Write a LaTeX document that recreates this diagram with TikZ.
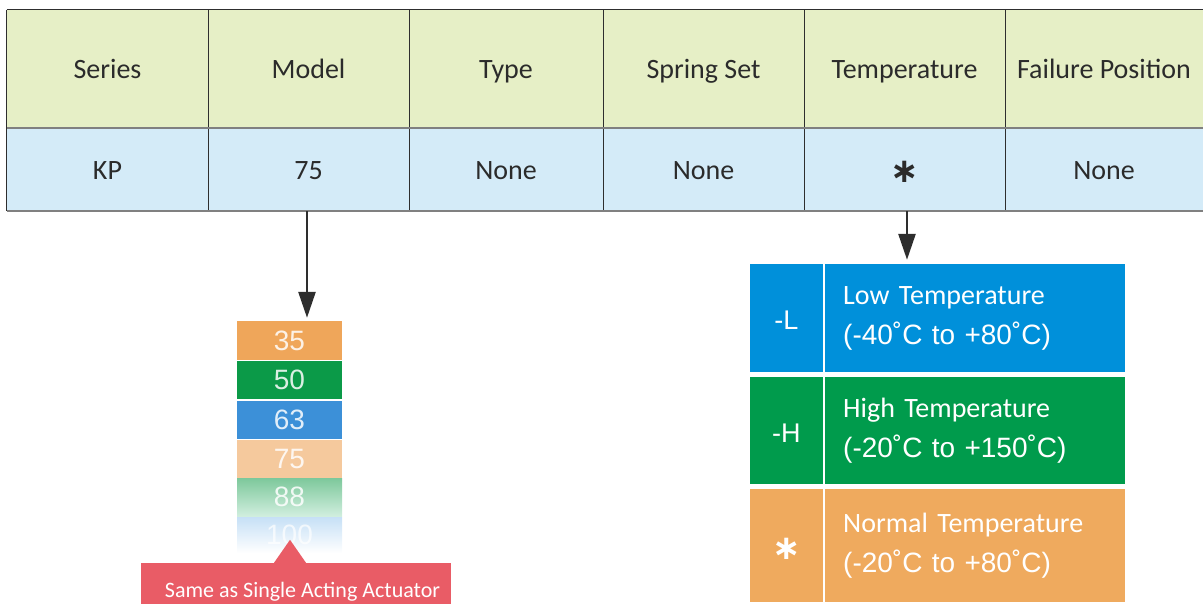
\documentclass[tikz,border=0pt]{standalone}
\usepackage{fontspec}
\setmainfont{Carlito}
\newfontfamily\arialf{Liberation Sans}
\newfontfamily\djv{DejaVu Sans}
\usetikzlibrary{arrows.meta,calc}
\definecolor{hdr}{HTML}{E6EFC6}
\definecolor{rowc}{HTML}{D4EBF8}
\definecolor{tline}{HTML}{2E2E2E}
\definecolor{gline}{HTML}{808080}
\definecolor{tblue}{HTML}{0090DA}
\definecolor{tgreen}{HTML}{009B4C}
\definecolor{torange}{HTML}{EFAA5E}
\definecolor{sorange}{HTML}{EFA65A}
\definecolor{sgreen}{HTML}{0B9A48}
\definecolor{sblue}{HTML}{3C90D8}
\definecolor{slorange}{HTML}{F5C99D}
\definecolor{sg1}{RGB}{125,200,155}
\definecolor{sg2}{RGB}{208,238,222}
\definecolor{sb1}{RGB}{198,224,246}
\definecolor{cred}{HTML}{E95C66}
\definecolor{txt}{HTML}{2B2B2B}
\begin{document}
\begin{tikzpicture}[x=1pt,y=-1pt,
  cell/.style={inner sep=0pt, text=txt, font=\fontsize{28}{32}\selectfont, text height=20pt, text depth=0pt},
  hcell/.style={cell, fill=hdr, minimum height=118pt},
  rcell/.style={cell, fill=rowc, minimum height=83pt},
  arr/.style={draw=tline, line width=2.6pt, -{Triangle[length=26pt,width=17pt]}},
  sbox/.style={inner sep=0pt, minimum width=105pt, minimum height=38pt, text=white, text opacity=0.85, font=\arialf\fontsize{28}{32}\selectfont},
  codebox/.style={inner sep=0pt, minimum width=73pt, anchor=east, text=white, font=\arialf\fontsize{27}{30}\selectfont, text height=23pt, text depth=0pt},
  descbox/.style={inner xsep=18pt, inner ysep=0pt, text width=264pt, align=left, anchor=west, text=white, font=\fontsize{28}{40}\selectfont},
]
\useasboundingbox (0,0) rectangle (1203,604);
% header row
\node[hcell, minimum width=201pt] (h1) at (107.5,69) {Series};
\node[hcell, minimum width=201pt] (h2) at (308.5,69) {Model};
\node[hcell, minimum width=194pt] (h3) at (506,69) {Type};
\node[hcell, minimum width=201pt] (h4) at (703.5,69) {Spring Set};
\node[hcell, minimum width=201pt] (h5) at (904.5,69) {Temperature};
\node[hcell, minimum width=198pt] (h6) at (1104,69) {Failure Position};
% value row
\node[rcell, minimum width=201pt] (r1) at (107.5,169.5) {KP};
\node[rcell, minimum width=201pt] (r2) at (308.5,169.5) {75};
\node[rcell, minimum width=194pt] (r3) at (506,169.5) {None};
\node[rcell, minimum width=201pt] (r4) at (703.5,169.5) {None};
\node[rcell, minimum width=201pt] (r5) at (904.5,169.5) {\raisebox{-3.5pt}{\djv\bfseries\fontsize{34}{34}\selectfont ∗}};
\node[rcell, minimum width=198pt] (r6) at (1104,169.5) {None};
% table lines
\draw[tline, line width=1pt] (h1.north west) -- (h6.north east);
\draw[tline, line width=1pt] (h1.north west) -- (r1.south west);
\foreach \i in {1,...,5}{
  \draw[tline, line width=1pt] (h\i.north east) -- (r\i.south east);
}
\draw[gline, line width=1.6pt] (h1.south west) -- (h6.south east);
\draw[gline, line width=2pt] (r1.south west) -- (r6.south east);
% model stack
\node[sbox, fill=sorange, minimum height=39pt] (s35) at (289.5,340.5) {35};
\node[sbox, fill=sgreen] (s50) at (289.5,380) {50};
\node[sbox, fill=sblue] (s63) at (289.5,419.5) {63};
\node[sbox, fill=slorange] (s75) at (289.5,459) {75};
\node[sbox, top color=sg1, bottom color=sg2] (s88) at (289.5,497) {88};
\node[sbox, top color=sb1, bottom color=white, minimum height=36pt, text opacity=0.7] (s100) at (289.5,535) {100};
% callout
\node[fill=cred, inner sep=0pt, minimum width=310pt, minimum height=49pt, text=white, font=\fontsize{22}{26}\selectfont, text height=20pt, text depth=0pt] (co) at (296,587.5) {\hspace*{13pt}Same as Single Acting Actuator};
\fill[cred] ([xshift=-22pt]co.north) -- ([xshift=10pt]co.north) -- ($(co.north)+(-6,-23)$) -- cycle;
% temperature options
\node[codebox, fill=tblue, minimum height=108pt] (lc) at (823,318) {-L};
\node[descbox, fill=tblue, minimum height=108pt] (ld) at (825,318) {Low Temperature\\{\arialf (-40˚C to +80˚C)}};
\node[codebox, fill=tgreen, minimum height=107pt] (hc) at (823,430.5) {-H};
\node[descbox, fill=tgreen, minimum height=107pt] (hd) at (825,430.5) {High Temperature\\{\arialf (-20˚C to +150˚C)}};
\node[codebox, fill=torange, minimum height=113pt, font=\djv\bfseries\fontsize{34}{34}\selectfont, text height=27pt] (nc) at (823,545.5) {∗};
\node[descbox, fill=torange, minimum height=113pt] (nd) at (825,545.5) {Normal Temperature\\{\arialf (-20˚C to +80˚C)}};
% arrows
\draw[arr] ([xshift=-1.5pt]r2.south) -- ($(r2.south |- s35.north)+(-1.5,-3)$);
\draw[arr] ([xshift=2.5pt]r5.south) -- ($(r5.south |- ld.north)+(2.5,-4)$);
\end{tikzpicture}
\end{document}
